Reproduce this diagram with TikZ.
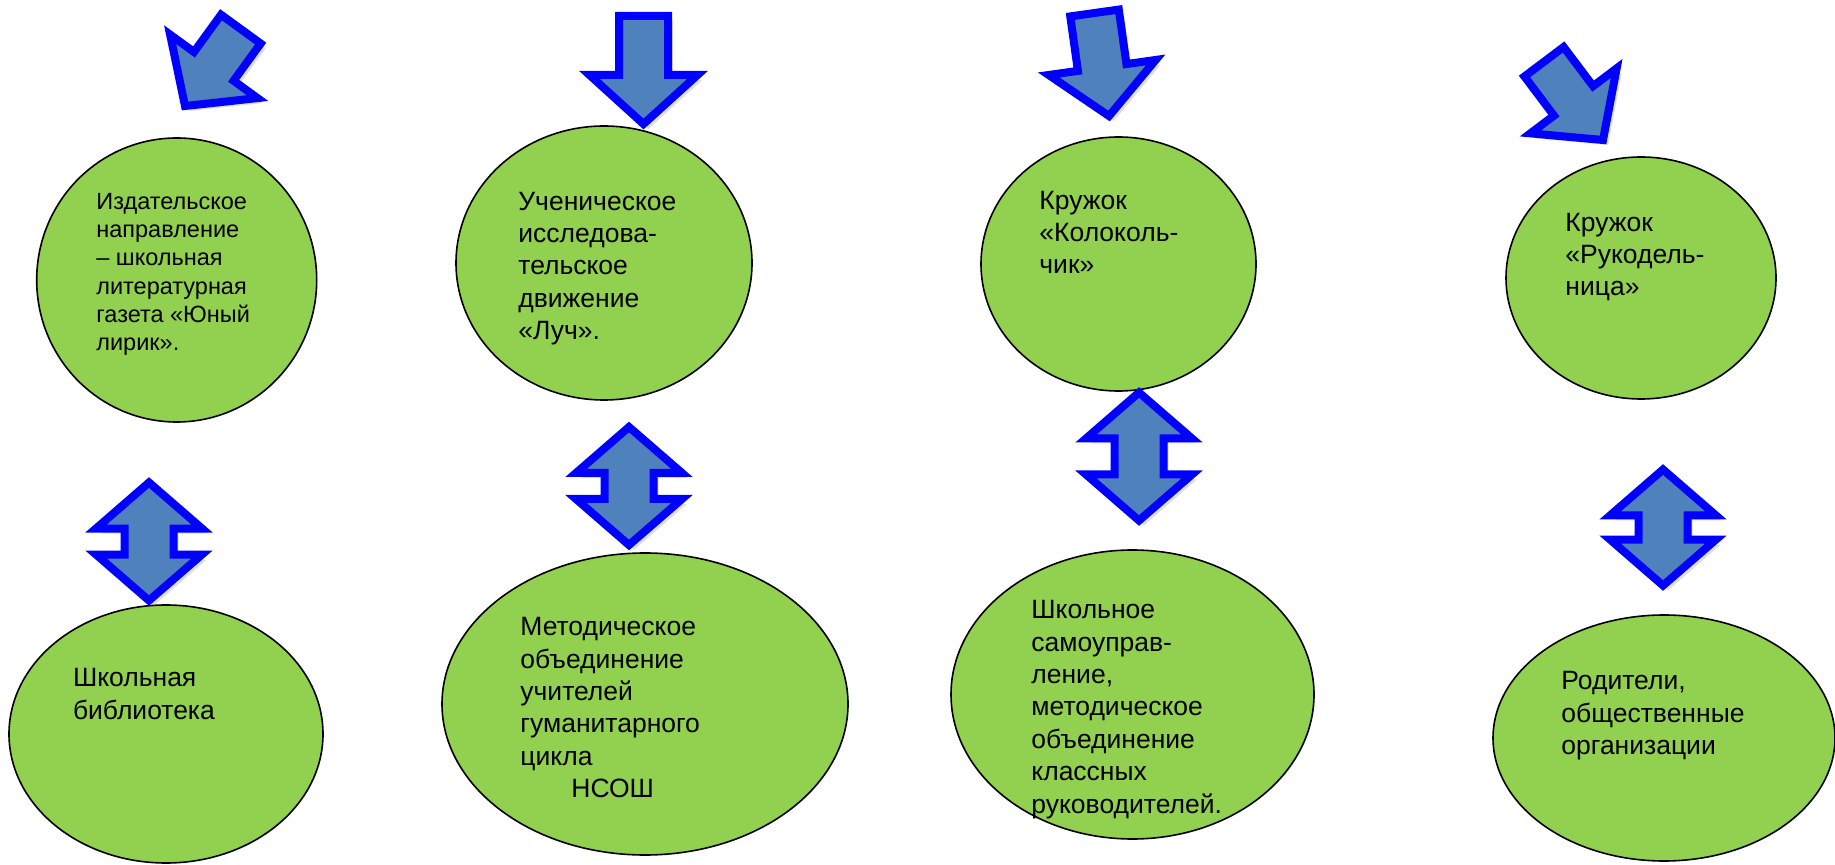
\documentclass[tikz,border=0pt]{standalone}
\usepackage{fontspec}
\setmainfont{Liberation Sans}
\usepackage{xcolor}
\usepackage{tikz}
\usetikzlibrary{shapes.geometric,shadows}
\definecolor{leaf}{HTML}{92D050}
\definecolor{steel}{HTML}{4F81BD}
\tikzset{main node/.style={ellipse,draw=black,fill=leaf,line width=0.8pt,inner sep=0pt},
  label text/.style={anchor=north west,inner sep=0pt,align=left,font=\fontsize{13.25}{16.2}\selectfont},
  small text/.style={label text,font=\fontsize{11.75}{14.1}\selectfont},
  block arrow/.style={draw=blue,fill=steel,line width=4pt,miter limit=20,
    drop shadow={shadow xshift=2.5pt,shadow yshift=-2.5pt,opacity=0.25}},}

\begin{document}
\begin{tikzpicture}[x=0.5pt,y=-0.5pt]
    \useasboundingbox (0,0) rectangle (1835,865);

    \node[main node, minimum width=140pt, minimum height=142pt] (1) at (176.7,280) {};
    \node[main node, minimum width=148pt, minimum height=137pt] (2) at (604,263) {};
    \node[main node, minimum width=137.5pt, minimum height=127pt] (3) at (1118.5,264) {};
    \node[main node, minimum width=135pt, minimum height=121pt] (4) at (1641,278) {};
    \node[main node, minimum width=157pt, minimum height=129pt] (5) at (166,734) {};
    \node[main node, minimum width=203pt, minimum height=151pt] (6) at (645,704) {};
    \node[main node, minimum width=181.5pt, minimum height=144.5pt] (7) at (1132.5,694.5) {};
    \node[main node, minimum width=171pt, minimum height=123pt] (8) at (1664,738) {};

    \node[small text] (t1) at (96,193) {Издательское\\направление\\– школьная\\литературная\\газета «Юный\\лирик».};
    \node[label text] (t2) at (518,191.5) {Ученическое\\исследова-\\тельское\\движение\\«Луч».};
    \node[label text] (t3) at (1039,190.5) {Кружок\\«Колоколь-\\чик»};
    \node[label text] (t4) at (1565,212.5) {Кружок\\«Рукодель-\\ница»};
    \node[label text] (t5) at (72.6,668) {Школьная\\библиотека};
    \node[label text] (t6) at (520,617) {Методическое\\объединение\\учителей\\гуманитарного\\цикла\\\hspace*{25.5pt}НСОШ};
    \node[label text] (t7) at (1031,600) {Школьное\\самоуправ-\\ление,\\методическое\\объединение\\классных\\руководителей.};
    \node[label text] (t8) at (1561,671) {Родители,\\общественные\\организации};

	\begin{scope}[shift={(185,106)},rotate=-36]
    \draw[block arrow] (0,0) -- (-54,-49) -- (-24.5,-49) -- (-24.5,-95) -- (24.5,-95) -- (24.5,-49) -- (54,-49) -- cycle;
    \end{scope}

	\begin{scope}[shift={(643.5,124)}]
    \draw[block arrow] (0,0) -- (-54,-49) -- (-24.5,-49) -- (-24.5,-108) -- (24.5,-108) -- (24.5,-49) -- (54,-49) -- cycle;
    \end{scope}

	\begin{scope}[shift={(1109,116)},rotate=8]
    \draw[block arrow] (0,0) -- (-54,-49) -- (-24.5,-49) -- (-24.5,-104) -- (24.5,-104) -- (24.5,-49) -- (54,-49) -- cycle;
    \end{scope}

	\begin{scope}[shift={(1603,140)},rotate=37]
    \draw[block arrow] (0,0) -- (-54,-49) -- (-24.5,-49) -- (-24.5,-98) -- (24.5,-98) -- (24.5,-49) -- (54,-49) -- cycle;
    \end{scope}

	\begin{scope}[shift={(149,541.5)}]
    \draw[block arrow] (0,-59) -- (53,-13) -- (24.5,-13) -- (24.5,13) -- (53,13) -- (0,59) -- (-53,13) -- (-24.5,13) -- (-24.5,-13) -- (-53,-13) -- cycle;
    \end{scope}

	\begin{scope}[shift={(629,486)}]
    \draw[block arrow] (0,-59) -- (53,-13) -- (24.5,-13) -- (24.5,13) -- (53,13) -- (0,59) -- (-53,13) -- (-24.5,13) -- (-24.5,-13) -- (-53,-13) -- cycle;
    \end{scope}

	\begin{scope}[shift={(1139,456.5)}]
    \draw[block arrow] (0,-64) -- (53,-18) -- (24.5,-18) -- (24.5,18) -- (53,18) -- (0,64) -- (-53,18) -- (-24.5,18) -- (-24.5,-18) -- (-53,-18) -- cycle;
    \end{scope}

	\begin{scope}[shift={(1663,527.5)}]
    \draw[block arrow] (0,-58) -- (53,-12) -- (24.5,-12) -- (24.5,12) -- (53,12) -- (0,58) -- (-53,12) -- (-24.5,12) -- (-24.5,-12) -- (-53,-12) -- cycle;
    \end{scope}
\end{tikzpicture}
\end{document}
